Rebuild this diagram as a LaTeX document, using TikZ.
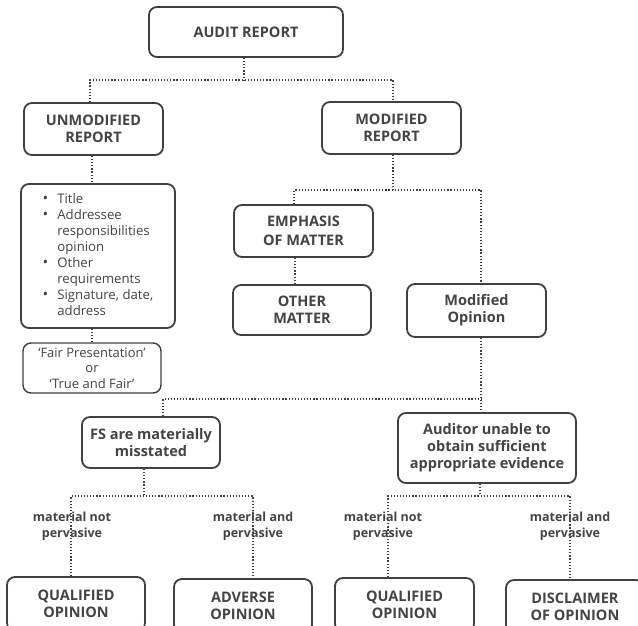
\documentclass[tikz,border=0pt]{standalone}
\usepackage{fontspec}
\setmainfont{Open Sans}
\usetikzlibrary{positioning}
\definecolor{ink}{HTML}{444444}
\definecolor{edge}{HTML}{404040}
\newcommand{\bul}{{\fontsize{15}{16}\selectfont •}}
\begin{document}
\begin{tikzpicture}[x=1pt,y=-1pt,
  box/.style={draw=edge,line width=1.8pt,rounded corners=8pt,fill=white,
    align=center,text=ink,inner sep=2pt,
    font=\bfseries\fontsize{14.5}{17}\selectfont},
  dl/.style={draw=edge,line width=1.7pt,dash pattern=on 1.2pt off 1.9pt},
  lbl/.style={align=center,text=ink,font=\bfseries\fontsize{12.5}{16}\selectfont}]
\useasboundingbox (0,0) rectangle (638,625);
% nodes
\node[box,minimum width=194pt,minimum height=50pt] (audit) at (246,32) {AUDIT REPORT};
\node[box,minimum width=139pt,minimum height=52pt] (unmod) at (93.5,129) {UNMODIFIED\\REPORT};
\node[box,minimum width=139pt,minimum height=52pt] (mod) at (391.5,128) {MODIFIED\\REPORT};
\node[box,minimum width=154pt,minimum height=144pt,align=left,
  font=\fontsize{13.2}{16}\selectfont] (list) at (98,256)
  {\begin{tabular}{@{}l@{\hspace{9pt}}l@{}}
   \bul & Title\\
   \bul & Addressee\\
   & responsibilities\\
   & opinion\\
   \bul & Other\\
   & requirements\\
   \bul & Signature, date,\\
   & address
   \end{tabular}};
\node[box,minimum width=138pt,minimum height=50pt,line width=1.4pt,
  font=\fontsize{13}{15.5}\selectfont] (fair) at (92,368)
  {‘Fair Presentation’\\or\\‘True and Fair’};
\node[box,minimum width=139pt,minimum height=52pt,font=\bfseries\fontsize{14.5}{19}\selectfont] (emph) at (303.5,231) {EMPHASIS\\OF MATTER};
\node[box,minimum width=138pt,minimum height=50pt] (other) at (302,310) {OTHER\\MATTER};
\node[box,minimum width=139pt,minimum height=53pt] (modop) at (476.5,310.5) {Modified\\Opinion};
\node[box,minimum width=138pt,minimum height=51pt] (fs) at (151,442.5) {FS are materially\\misstated};
\node[box,minimum width=178pt,minimum height=70pt] (auditor) at (487,448) {Auditor unable to\\obtain sufficient\\appropriate evidence};
\node[box,minimum width=138pt,minimum height=54pt] (qual1) at (76,604) {QUALIFIED\\OPINION};
\node[box,minimum width=138pt,minimum height=54pt] (adverse) at (243,606) {ADVERSE\\OPINION};
\node[box,minimum width=139pt,minimum height=54pt] (qual2) at (404.5,605) {QUALIFIED\\OPINION};
\node[box,minimum width=138pt,minimum height=54pt] (discl) at (575,607) {DISCLAIMER\\OF OPINION};
% junctions
\coordinate (j1) at (244,80);
\coordinate (j2) at (393,190);
\coordinate (j3) at (481,399);
\coordinate (j4) at (144,496);
\coordinate (j5) at (480,496);
% connectors
\draw[dl] ([xshift=-2pt]audit.south) -- (j1);
\draw[dl] ([xshift=-3.5pt]unmod.north) |- (j1) -| ([xshift=1.5pt]mod.north);
\draw[dl] ([xshift=-1.5pt]unmod.south) -- ([xshift=-1.5pt]unmod.south |- list.north);
\draw[dl] (fair.north |- list.south) -- (fair.north);
\draw[dl] ([xshift=1.5pt]mod.south) -- (j2);
\draw[dl] ([xshift=-9.5pt]emph.north) |- (j2) -| ([xshift=4.5pt]modop.north);
\draw[dl] ([xshift=-8.5pt]emph.south) -- ([xshift=-7pt]other.north);
\draw[dl] ([xshift=4.5pt]modop.south) -- ([xshift=-6pt]auditor.north);
\draw[dl] ([xshift=12pt]fs.north) |- (j3);
\draw[dl] ([xshift=-7pt]fs.south) -- (j4);
\draw[dl] ([xshift=-5pt]qual1.north) |- (j4) -| ([xshift=10pt]adverse.north);
\draw[dl] ([xshift=-7pt]auditor.south) -- (j5);
\draw[dl] ([xshift=-16.5pt]qual2.north) |- (j5) -| ([xshift=-5pt]discl.north);
% labels
\node[lbl] (l1) at (72,526) {material not\\pervasive};
\node[lbl] (l2) at (253,526) {material and\\pervasive};
\node[lbl] (l3) at (383,526) {material not\\pervasive};
\node[lbl] (l4) at (570,526) {material and\\pervasive};
\end{tikzpicture}
\end{document}
